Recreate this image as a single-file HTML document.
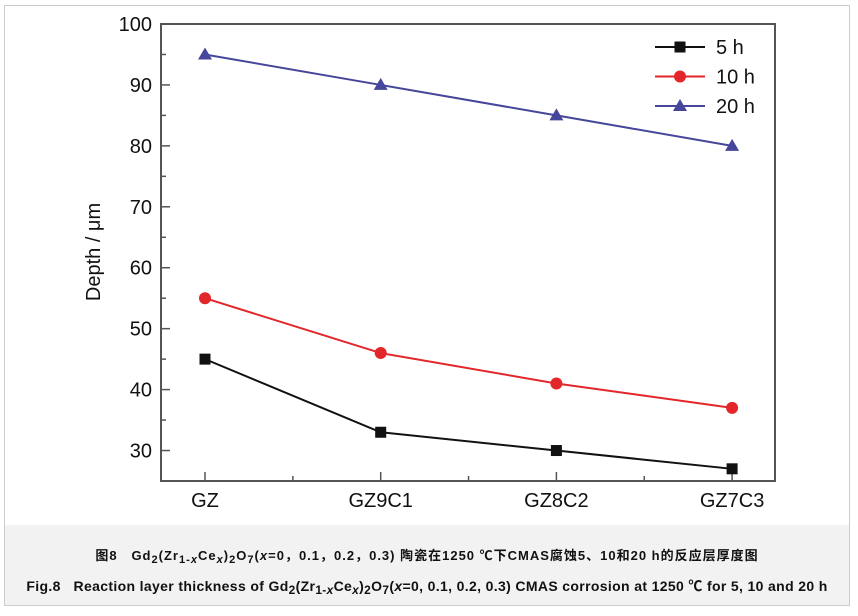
<!DOCTYPE html>
<html><head><meta charset="utf-8"><style>
body{margin:0;background:#fff;width:858px;height:616px;overflow:hidden;font-family:"Liberation Sans","Noto Sans CJK SC",sans-serif}
#frame{position:absolute;left:4px;top:5px;width:846px;height:601px;border:1px solid #ccc;box-sizing:border-box}
#cap{position:absolute;left:5px;top:525px;width:844px;height:80px;background:#f2f2f2}
.c{position:absolute;left:0;width:844px;text-align:center;font-weight:bold;color:#111;white-space:nowrap}
sub{font-size:85%;vertical-align:-3px}
</style></head><body>
<div id="frame"></div>
<svg id="chart" width="858" height="616" style="position:absolute;left:0;top:0"></svg>
<div id="cap">
<div class="c" style="top:20px;font-size:13px;letter-spacing:1.0px">图8&nbsp;&nbsp; Gd<sub>2</sub>(Zr<sub>1-<i>x</i></sub>Ce<sub><i>x</i></sub>)<sub>2</sub>O<sub>7</sub>(<i>x</i>=0，0.1，0.2，0.3) 陶瓷在1250 ℃下CMAS腐蚀5、10和20 h的反应层厚度图</div>
<div class="c" style="top:51px;font-size:14px;letter-spacing:0.35px">Fig.8&nbsp;&nbsp; Reaction layer thickness of Gd<sub>2</sub>(Zr<sub>1-<i>x</i></sub>Ce<sub><i>x</i></sub>)<sub>2</sub>O<sub>7</sub>(<i>x</i>=0, 0.1, 0.2, 0.3) CMAS corrosion at 1250 ℃ for 5, 10 and 20 h</div>
</div>
<script>
const categories=["GZ","GZ9C1","GZ8C2","GZ7C3"];
const series5h=[45,33,30,27];
const series10h=[55,46,41,37];
const series20h=[95,90,85,80];
const yTicks=[30,40,50,60,70,80,90,100];
const seriesNames=["5 h","10 h","20 h"];

const svg=document.getElementById('chart');
const NS="http://www.w3.org/2000/svg";
const L=161,T=24,R=775,B=481,yMin=25,yMax=100;
const yS=v=>T+(yMax-v)/(yMax-yMin)*(B-T);
const x0=205,dx=175.7;
const xS=i=>x0+i*dx;
function mk(t,a,p){const e=document.createElementNS(NS,t);for(const k in a)e.setAttribute(k,a[k]);(p||svg).appendChild(e);return e;}
const box=mk('rect',{x:L,y:T,width:R-L,height:B-T,fill:'none',stroke:'#555','stroke-width':2});


for(let v=yMin;v<=yMax;v+=5){
  const major=v%10===0;
  const t=mk('line',{x1:L,x2:L+(major?9:5),y1:yS(v),y2:yS(v),stroke:'#555','stroke-width':1.5});
  
  
}
yTicks.forEach(v=>{
  const t=mk('text',{x:152,y:yS(v)+7,'text-anchor':'end','font-size':20,fill:'#111'});
  t.textContent=v;
  
  
});
categories.forEach((c,i)=>{
  const tk=mk('line',{x1:xS(i),x2:xS(i),y1:B,y2:B-9,stroke:'#555','stroke-width':1.5});
  
  
  if(i<categories.length-1){
    const m=mk('line',{x1:xS(i)+dx/2,x2:xS(i)+dx/2,y1:B,y2:B-5,stroke:'#555','stroke-width':1.5});
    
    
  }
  const t=mk('text',{x:xS(i),y:507,'text-anchor':'middle','font-size':20,fill:'#111'});
  t.textContent=c;
  
  
});
const yl=mk('text',{x:0,y:0,'text-anchor':'middle','font-size':20,fill:'#111',transform:'translate(100,252) rotate(-90)'});
yl.textContent="Depth / μm";



function marker(kind,x,y,col,g){
  if(kind==='sq')return mk('rect',{x:x-5.5,y:y-5.5,width:11,height:11,fill:col},g);
  if(kind==='ci')return mk('circle',{cx:x,cy:y,r:6,fill:col},g);
  return mk('polygon',{points:`${x},${y-7} ${x-7},${y+5} ${x+7},${y+5}`,fill:col},g);
}
const all=[[series5h,'#111','sq'],[series10h,'#e3262a','ci'],[series20h,'#46469a','tr']];
all.forEach(([d,col,kind],si)=>{
  const g=mk('g',{});
  
  
  mk('polyline',{points:d.map((v,i)=>xS(i)+','+yS(v)).join(' '),fill:'none',stroke:col,'stroke-width':2},g);
  d.forEach((v,i)=>{
    const m=marker(kind,xS(i),yS(v),col,g);
    
    
  });
  const ly=47+si*29.5;
  const lg=mk('g',{});
  
  
  mk('line',{x1:655,x2:705,y1:ly,y2:ly,stroke:col,'stroke-width':2},lg);
  marker(kind,680,ly,col,lg);
  const t=mk('text',{x:716,y:ly+7,'font-size':20,fill:'#111'},lg);
  t.textContent=seriesNames[si];
});
</script>
</body></html>
